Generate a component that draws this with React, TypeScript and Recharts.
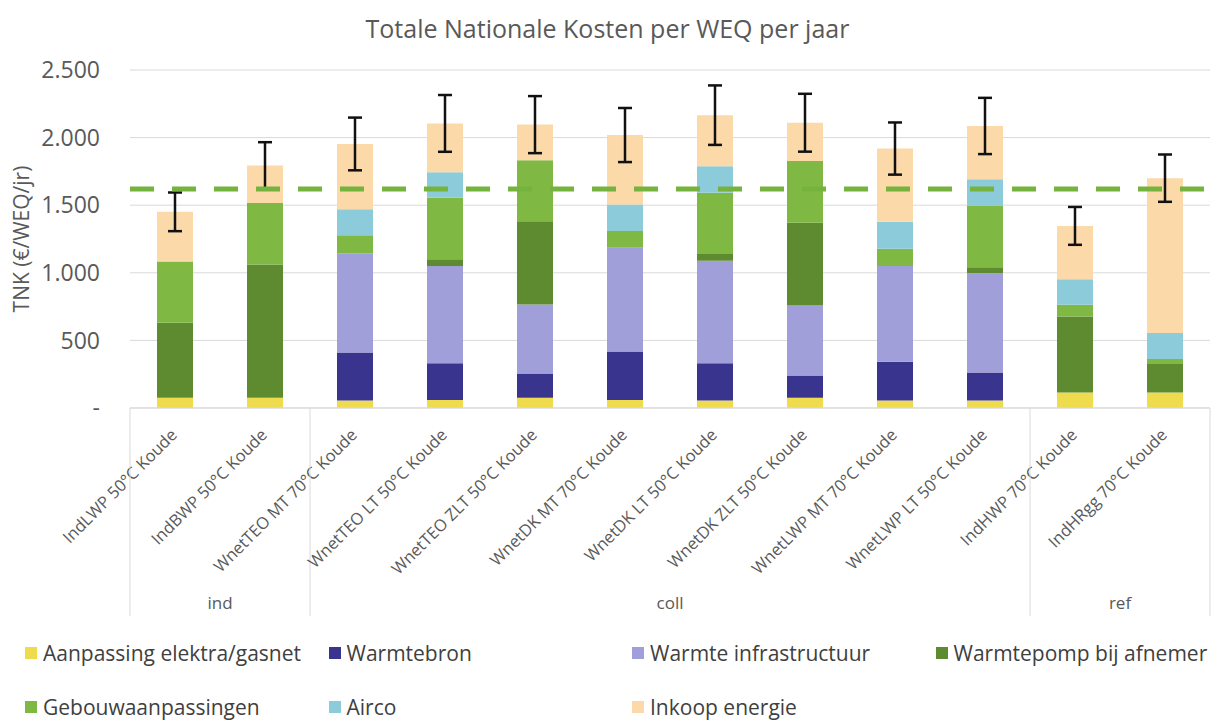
import React from "react";
import {
  BarChart,
  Bar,
  XAxis,
  YAxis,
  CartesianGrid,
  ReferenceLine,
  ErrorBar,
} from "recharts";

const categories = [
  "IndLWP 50°C Koude",
  "IndBWP 50°C Koude",
  "WnetTEO MT 70°C Koude",
  "WnetTEO LT 50°C Koude",
  "WnetTEO ZLT 50°C Koude",
  "WnetDK MT 70°C Koude",
  "WnetDK LT 50°C Koude",
  "WnetDK ZLT 50°C Koude",
  "WnetLWP MT 70°C Koude",
  "WnetLWP LT 50°C Koude",
  "IndHWP 70°C Koude",
  "IndHRgg 70°C Koude",
];

const groupNames = ["ind", "coll", "ref"];
const groupSizes = [2, 8, 2];

const aanpassing = [75, 75, 55, 60, 75, 60, 55, 75, 55, 55, 115, 115];
const warmtebron = [0, 0, 355, 271, 180, 357, 276, 165, 288, 207, 0, 0];
const infrastructuur = [0, 0, 735, 720, 510, 769, 759, 518, 708, 735, 0, 0];
const warmtepomp = [555, 986, 0, 49, 616, 0, 49, 612, 0, 44, 562, 210];
const gebouw = [453, 456, 133, 456, 451, 123, 453, 456, 126, 456, 86, 37];
const airco = [0, 0, 192, 187, 0, 197, 197, 0, 200, 195, 190, 192];
const inkoop = [368, 276, 483, 362, 264, 513, 377, 284, 542, 394, 394, 1146];
const spreiding = [143, 173, 195, 210, 211, 200, 220, 214, 193, 208, 140, 175];

const referentie = 1620;
const yTicks = [0, 500, 1000, 1500, 2000, 2500];

const series = [
  { key: "aanpassing", name: "Aanpassing elektra/gasnet", color: "#EEDC4E", values: aanpassing },
  { key: "warmtebron", name: "Warmtebron", color: "#39358E", values: warmtebron },
  { key: "infra", name: "Warmte infrastructuur", color: "#A19FD9", values: infrastructuur },
  { key: "warmtepomp", name: "Warmtepomp bij afnemer", color: "#5F8B30", values: warmtepomp },
  { key: "gebouw", name: "Gebouwaanpassingen", color: "#7FB843", values: gebouw },
  { key: "airco", name: "Airco", color: "#8CCBDA", values: airco },
  { key: "inkoop", name: "Inkoop energie", color: "#FBD9A9", values: inkoop },
];

const data = categories.map((name, i) => {
  const row: Record<string, any> = { name, err: spreiding[i] };
  series.forEach((s) => (row[s.key] = s.values[i]));
  return row;
});

// group starts derived from sizes
const groupStart: number[] = [];
groupSizes.reduce((acc, n) => {
  groupStart.push(acc);
  return acc + n;
}, 0);

const BAND = 90;
const FONT = "'Open Sans', 'Noto Sans', sans-serif";
const GREY = "#595959";

const fmt = (v: number) =>
  v === 0 ? "-" : String(v).replace(/\B(?=(\d{3})+(?!\d))/g, ".");

function CategoryTick(props: any) {
  const { x, y, payload, index } = props;
  const g = groupStart.indexOf(index);
  return (
    <g>
      <text
        transform={`translate(${x + 3},${y + 28}) rotate(-45)`}
        textAnchor="end"
        fontSize={16.5}
        fontFamily={FONT}
        fill={GREY}
      >
        {payload.value}
      </text>
      {g >= 0 && (
        <>
          <line x1={x - BAND / 2} x2={x - BAND / 2} y1={y} y2={y + 208} stroke="#d9d9d9" />
          <text
            x={x + ((groupSizes[g] - 1) * BAND) / 2}
            y={y + 201}
            textAnchor="middle"
            fontSize={17}
            fontFamily={FONT}
            fill={GREY}
          >
            {groupNames[g]}
          </text>
        </>
      )}
      {index === categories.length - 1 && (
        <line x1={x + BAND / 2} x2={x + BAND / 2} y1={y} y2={y + 208} stroke="#d9d9d9" />
      )}
    </g>
  );
}

export default function App() {
  return (
    <div
      style={{
        position: "absolute",
        left: 0,
        top: 0,
        width: 1215,
        height: 722,
        background: "#fff",
        fontFamily: FONT,
        overflow: "hidden",
      }}
    >
      <div
        style={{
          position: "absolute",
          top: 11,
          left: 0,
          width: 1215,
          textAlign: "center",
          fontSize: 25,
          color: GREY,
        }}
      >
        Totale Nationale Kosten per WEQ per jaar
      </div>
      <BarChart
        width={1215}
        height={722}
        data={data}
        margin={{ top: 70, right: 5, bottom: 104, left: 0 }}
        barCategoryGap="30%"
      >
        <CartesianGrid vertical={false} stroke="#d9d9d9" />
        <XAxis
          dataKey="name"
          height={210}
          interval={0}
          tickLine={false}
          tickSize={0}
          tickMargin={0}
          axisLine={{ stroke: "#d9d9d9" }}
          tick={<CategoryTick />}
        />
        <YAxis
          width={130}
          domain={[0, 2500]}
          ticks={yTicks}
          tickFormatter={fmt}
          axisLine={false}
          tickLine={false}
          tickMargin={24}
          tick={{ fontSize: 23, fill: GREY, fontFamily: FONT }}
          label={{
            value: "TNK (€/WEQ/jr)",
            angle: -90,
            position: "center",
            dx: -43,
            fontSize: 21,
            fill: GREY,
            fontFamily: FONT,
          }}
        />
        {series.map((s, i) => (
          <Bar
            key={s.key}
            dataKey={s.key}
            name={s.name}
            stackId="tnk"
            fill={s.color}
            isAnimationActive={false}
          >
            {i === series.length - 1 && (
              <ErrorBar dataKey="err" width={7} strokeWidth={2.5} stroke="#111" />
            )}
          </Bar>
        ))}
        <ReferenceLine
          y={referentie}
          stroke="#76B33E"
          strokeWidth={5}
          strokeDasharray="24 18"
          ifOverflow="visible"
        />
      </BarChart>
      {series.map((s, i) => (
        <div
          key={s.key}
          style={{
            position: "absolute",
            left: 25 + (i % 4) * 303.5,
            top: i < 4 ? 639 : 693,
            display: "flex",
            alignItems: "center",
            fontSize: 21,
            lineHeight: "28px",
            color: "#404040",
            whiteSpace: "nowrap",
          }}
        >
          <span
            style={{
              display: "inline-block",
              width: 12,
              height: 12,
              background: s.color,
              marginRight: 6,
            }}
          />
          {s.name}
        </div>
      ))}
    </div>
  );
}
